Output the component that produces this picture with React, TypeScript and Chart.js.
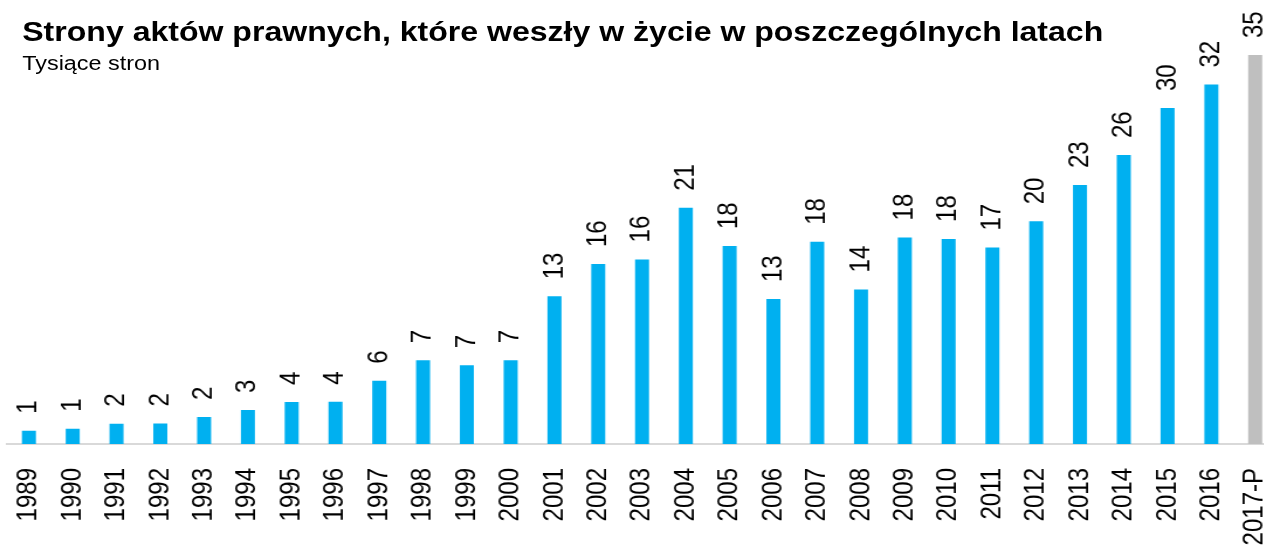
import React, { useEffect, useRef } from "react";
import { Chart, registerables } from "chart.js";

Chart.register(...registerables);

const categories: string[] = [
  "1989", "1990", "1991", "1992", "1993", "1994", "1995", "1996", "1997", "1998",
  "1999", "2000", "2001", "2002", "2003", "2004", "2005", "2006", "2007", "2008",
  "2009", "2010", "2011", "2012", "2013", "2014", "2015", "2016", "2017-P",
];

const values: number[] = [
  1.18, 1.36, 1.8, 1.82, 2.4, 3.02, 3.73, 3.76, 5.62, 7.45,
  6.99, 7.43, 13.12, 15.99, 16.4, 20.99, 17.58, 12.88, 17.96, 13.73,
  18.35, 18.22, 17.45, 19.78, 23.0, 25.67, 29.85, 31.93, 34.56,
];

const valueLabels: string[] = [
  "1", "1", "2", "2", "2", "3", "4", "4", "6", "7",
  "7", "7", "13", "16", "16", "21", "18", "13", "18", "14",
  "18", "18", "17", "20", "23", "26", "30", "32", "35",
];

const titleText = "Strony aktów prawnych, które weszły w życie w poszczególnych latach";
const subtitleText = "Tysiące stron";

const actualColor = "#00B0F0";
const forecastColor = "#BFBFBF";
const barColors = categories.map((c) => (c.endsWith("-P") ? forecastColor : actualColor));

const STRETCH = 1.17;
const FONT = "'Liberation Sans', Arial, sans-serif";

const valueLabelPlugin = {
  id: "valueLabels",
  afterDatasetsDraw(chart: any) {
    const ctx = chart.ctx;
    const meta = chart.getDatasetMeta(0);
    ctx.save();
    ctx.font = `24px ${FONT}`;
    ctx.fillStyle = "#000000";
    ctx.textAlign = "left";
    ctx.textBaseline = "middle";
    meta.data.forEach((bar: any, i: number) => {
      const x = bar.x;
      const y = bar.y - 17;
      ctx.save();
      ctx.translate(x, y);
      ctx.rotate(-Math.PI / 2);
      ctx.fillText(valueLabels[i], 0, 0);
      ctx.restore();
    });
    ctx.restore();
  },
};

export default function App() {
  const canvasRef = useRef<HTMLCanvasElement | null>(null);

  useEffect(() => {
    if (!canvasRef.current) return;
    const chart = new Chart(canvasRef.current, {
      type: "bar",
      data: {
        labels: categories,
        datasets: [
          {
            data: values,
            backgroundColor: barColors,
            borderWidth: 0,
            barPercentage: 0.32,
            categoryPercentage: 1,
          },
        ],
      },
      options: {
        responsive: false,
        animation: false,
        devicePixelRatio: 1,
        layout: { padding: { left: 6, right: 8.5, top: 5, bottom: 0 } },
        plugins: {
          legend: { display: false },
          title: { display: false },
          tooltip: { enabled: false },
        },
        scales: {
          x: {
            grid: { display: false, drawTicks: false },
            border: { display: true, color: "#D9D9D9", width: 2 },
            ticks: {
              autoSkip: false,
              maxRotation: 90,
              minRotation: 90,
              padding: 24,
              color: "#000000",
              font: { family: FONT, size: 24 },
            },
            afterFit(scale: any) {
              scale.height = 103;
              scale.paddingLeft = 0;
              scale.paddingRight = 0;
            },
          },
          y: {
            display: false,
            min: 0,
            max: 39,
          },
        },
      },
      plugins: [valueLabelPlugin],
    });
    return () => chart.destroy();
  }, []);

  return (
    <div
      style={{
        position: "fixed",
        left: 0,
        top: 0,
        width: 1264,
        height: 547,
        overflow: "hidden",
        background: "#ffffff",
      }}
    >
      <div
        style={{
          position: "absolute",
          left: 0,
          top: 0,
          width: 1100,
          height: 547,
          transform: `scaleX(${STRETCH})`,
          transformOrigin: "left top",
        }}
      >
        <canvas
          ref={canvasRef}
          width={1100}
          height={547}
          style={{ position: "absolute", left: 0, top: 0, width: 1100, height: 547 }}
        />
        <div
          style={{
            position: "absolute",
            left: 19,
            top: 18,
            fontFamily: FONT,
            fontWeight: "bold",
            fontSize: 27.4,
            lineHeight: "27px",
            whiteSpace: "nowrap",
            color: "#000000",
          }}
        >
          {titleText}
        </div>
        <div
          style={{
            position: "absolute",
            left: 19,
            top: 53,
            fontFamily: FONT,
            fontSize: 20,
            lineHeight: "20px",
            whiteSpace: "nowrap",
            color: "#000000",
          }}
        >
          {subtitleText}
        </div>
      </div>
    </div>
  );
}
